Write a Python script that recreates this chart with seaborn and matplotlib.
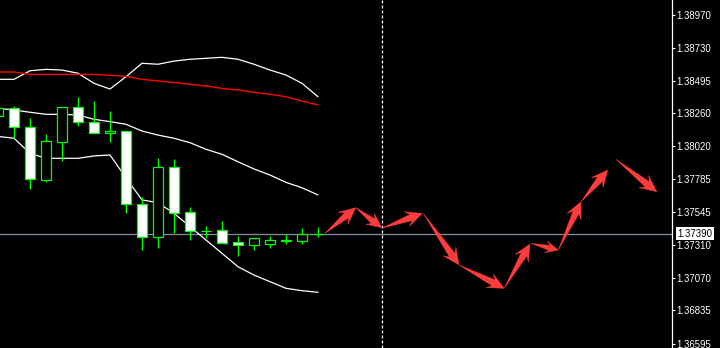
import numpy as np
import pandas as pd
import matplotlib
matplotlib.use("Agg")
import matplotlib.pyplot as plt
import matplotlib.transforms as mtransforms
import seaborn as sns

# ---------------- data ----------------
bar_index = list(range(21))
opens = [1.38242, 1.38295, 1.38158, 1.37775, 1.38050, 1.38303, 1.38194, 1.38115, 1.38131, 1.37601,
         1.37367, 1.37871, 1.37544, 1.37412, 1.37415, 1.37328, 1.37304, 1.37317, 1.37338, 1.37334, 1.37388]
highs = [1.38305, 1.38312, 1.38223, 1.38110, 1.38303, 1.38377, 1.38348, 1.38276, 1.38131, 1.37654,
         1.37936, 1.37929, 1.37582, 1.37444, 1.37481, 1.37372, 1.37360, 1.37372, 1.37384, 1.37430, 1.37435]
lows = [1.38235, 1.38081, 1.37714, 1.37765, 1.37917, 1.38170, 1.38115, 1.38054, 1.37541, 1.37271,
        1.37282, 1.37394, 1.37343, 1.37360, 1.37325, 1.37230, 1.37273, 1.37288, 1.37314, 1.37317, 1.37367]
closes = [1.38298, 1.38158, 1.37782, 1.38057, 1.38303, 1.38194, 1.38115, 1.38131, 1.37600, 1.37367,
          1.37871, 1.37541, 1.37405, 1.37410, 1.37325, 1.37304, 1.37356, 1.37343, 1.37340, 1.37384, 1.37390]

upper_band = [1.38505, 1.38505, 1.38567, 1.38577, 1.38572, 1.38549, 1.38476, 1.38435, 1.38524, 1.38621,
              1.38614, 1.38637, 1.38650, 1.38657, 1.38664, 1.38650, 1.38614, 1.38572, 1.38536, 1.38476, 1.38379]
middle_band = [1.38296, 1.38283, 1.38267, 1.38252, 1.38252, 1.38247, 1.38216, 1.38199, 1.38180, 1.38131,
               1.38102, 1.38079, 1.38047, 1.37999, 1.37963, 1.37909, 1.37857, 1.37813, 1.37760, 1.37721, 1.37669]
lower_band = [1.38092, 1.38079, 1.37970, 1.37934, 1.37934, 1.37934, 1.37951, 1.37958, 1.37792, 1.37633,
              1.37613, 1.37536, 1.37440, 1.37343, 1.37247, 1.37150, 1.37090, 1.37042, 1.36994, 1.36977, 1.36965]
ma_red = [1.38558, 1.38558, 1.38541, 1.38541, 1.38541, 1.38541, 1.38541, 1.38534, 1.38527, 1.38505,
          1.38493, 1.38482, 1.38469, 1.38457, 1.38439, 1.38428, 1.38411, 1.38397, 1.38379, 1.38348, 1.38319]

forecast_x0 = [20.44, 22.36, 23.98, 26.58, 28.81, 31.64, 33.31, 35.02, 36.44, 38.62]
forecast_y0 = [1.37392, 1.37577, 1.37428, 1.37536, 1.37163, 1.36994, 1.37319, 1.37271, 1.37620, 1.37927]
forecast_x1 = [22.36, 23.98, 26.52, 28.81, 31.64, 33.25, 35.02, 36.44, 38.11, 41.17]
forecast_y1 = [1.37577, 1.37432, 1.37536, 1.37163, 1.36994, 1.37314, 1.37271, 1.37620, 1.37849, 1.37692]

current_price = 1.37390
marker_bar = 24
price_ticks = [1.38970, 1.38730, 1.38495, 1.38260, 1.38020, 1.37785,
               1.37545, 1.37310, 1.37070, 1.36835, 1.36595]

# ---------------- style ----------------
sns.set_style("dark", {"axes.facecolor": "black", "figure.facecolor": "black"})
plt.rcParams['font.family'] = ['Liberation Sans', 'DejaVu Sans']

LIME = '#00ff00'
ARROW = '#ff3c3c'

fig = plt.figure(figsize=(7.2, 3.48), dpi=100)
fig.patch.set_facecolor('black')
ax = fig.add_axes([0, 0, 672 / 720, 1])
ax.set_facecolor('black')

ax.set_xlim(0.125, 42.125)
ax.set_ylim(1.365625, 1.390785)

# current price line and time marker
ax.axhline(current_price, color='#8090a0', lw=0.9, zorder=1)
ax.axvline(marker_bar, color='white', lw=0.9, ls=(0, (2.4, 1.6)), zorder=1)

# Bollinger bands & MA via seaborn
df = pd.DataFrame({'bar': bar_index, 'upper': upper_band, 'middle': middle_band,
                   'lower': lower_band, 'ma': ma_red})
for col in ['upper', 'middle', 'lower']:
    sns.lineplot(data=df, x='bar', y=col, color='white', lw=0.9, ax=ax, zorder=2)
sns.lineplot(data=df, x='bar', y='ma', color='#ff0000', lw=1.0, ax=ax, zorder=2)

# candles
o = np.array(opens); c = np.array(closes)
fills = ['white' if cc < oo else 'black' for oo, cc in zip(opens, closes)]
ax.vlines(bar_index, lows, highs, color=LIME, lw=1.0, zorder=3)
heights = np.maximum(np.abs(c - o), 0.000005)
ax.bar(bar_index, heights, bottom=np.minimum(o, c), width=0.62, color=fills,
       edgecolor=LIME, linewidth=0.9, zorder=4)

# forecast arrows (geometry computed in display space from data points)
fig.canvas.draw()
inv = ax.transData.inverted()
for x0, y0, x1, y1 in zip(forecast_x0, forecast_y0, forecast_x1, forecast_y1):
    p0 = ax.transData.transform((x0, y0))
    p1 = ax.transData.transform((x1, y1))
    d = p1 - p0
    L = np.hypot(*d)
    u = d / L
    n = np.array([-u[1], u[0]])
    hl = min(16.5, 0.45 * L)
    pts = np.array([
        p0,
        p1 - u * 0.72 * hl - n * 0.2 * hl,
        p1 - u * hl - n * 0.47 * hl,
        p1,
        p1 - u * hl + n * 0.47 * hl,
        p1 - u * 0.72 * hl + n * 0.2 * hl,
    ])
    dpts = inv.transform(pts)
    ax.fill(dpts[:, 0], dpts[:, 1], color=ARROW, lw=0.3, edgecolor=ARROW, zorder=5)

# axes
ax.set_xlabel(''); ax.set_ylabel('')
ax.set_xticks([])
ax.yaxis.tick_right()
ax.set_yticks(price_ticks)
ax.set_yticklabels([f'{t:.5f}' for t in price_ticks])
ax.tick_params(axis='y', colors='white', labelcolor='white', length=1.8, width=0.8,
               pad=1.5, labelsize=6.9, right=True, left=False)
for s in ['top', 'left', 'bottom']:
    ax.spines[s].set_visible(False)
ax.spines['right'].set_color('white')
ax.spines['right'].set_linewidth(0.9)
ax.grid(False)

blend = mtransforms.blended_transform_factory(ax.transAxes, ax.transData)
ax.annotate(f'{current_price:.5f}', xy=(1, current_price), xycoords=blend,
            xytext=(3.8, 0), textcoords='offset points', ha='left', va='center',
            fontsize=6.9, color='black', annotation_clip=False,
            bbox=dict(facecolor='white', edgecolor='none', pad=1.0))

fig.savefig('out.png', dpi=100, facecolor='black')
